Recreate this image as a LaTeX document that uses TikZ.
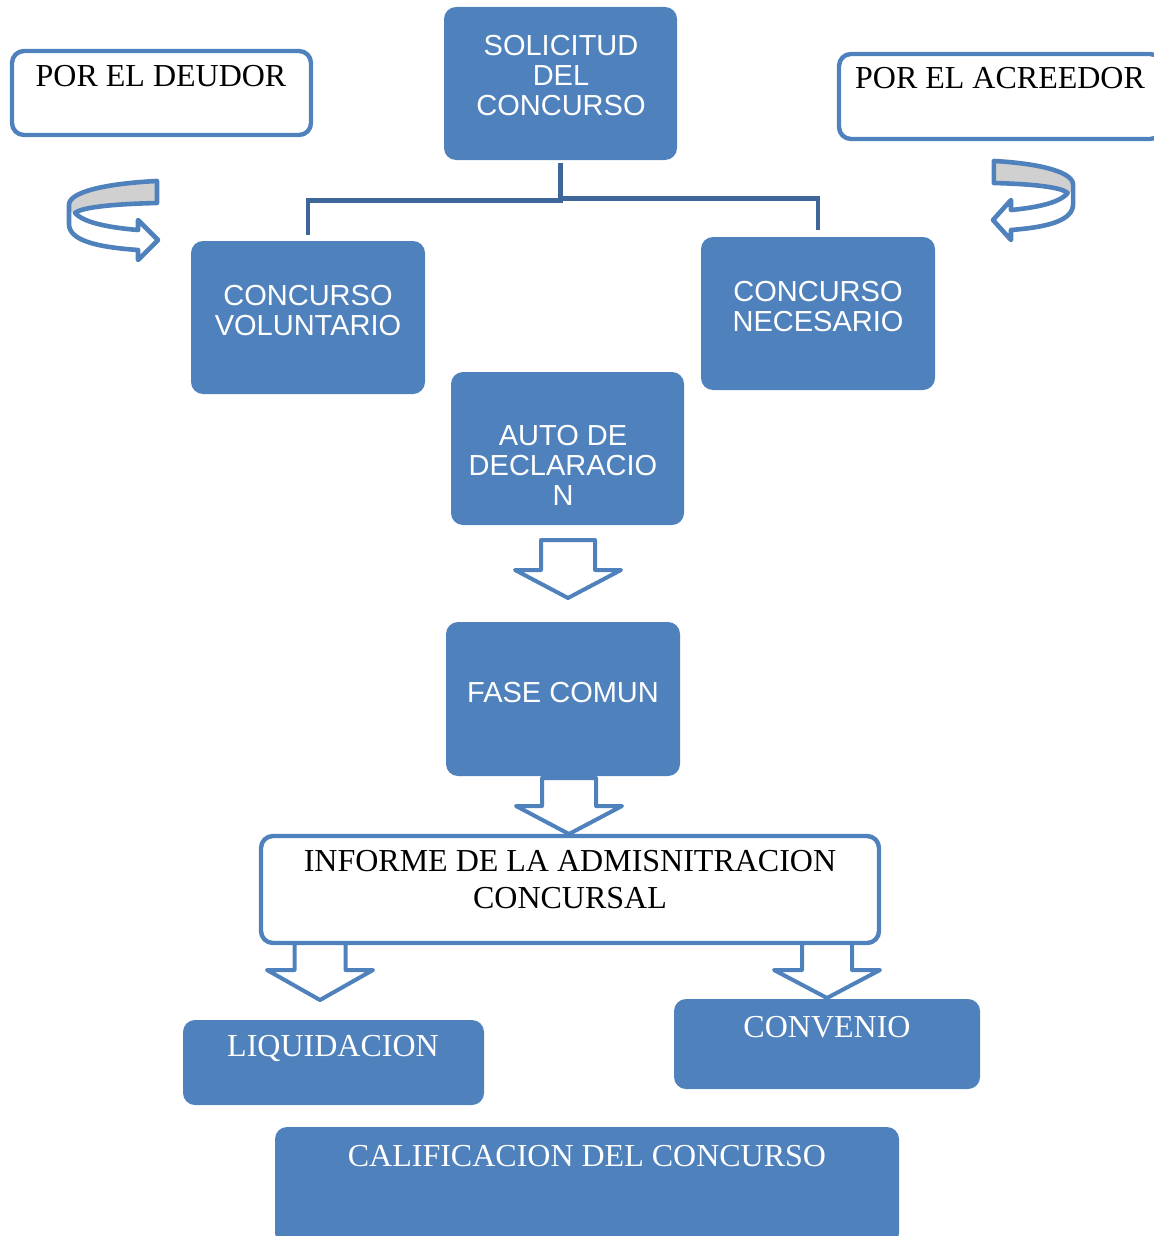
\documentclass[tikz,border=0pt]{standalone}
\usepackage{fontspec}
\setmainfont{Liberation Serif}
\newfontfamily\arialf{Liberation Sans}
\definecolor{accent}{HTML}{4F81BD}
\definecolor{connblue}{HTML}{3F6698}
\definecolor{ribbon}{HTML}{D0D0D0}
\tikzset{
  fbox/.style={fill=accent, draw=none, rounded corners=6pt, inner sep=0pt},
  wbox/.style={fill=white, draw=accent, line width=2.2pt, rounded corners=6pt, inner sep=0pt},
  sanstxt/.style={font=\arialf\fontsize{14.5}{15}\selectfont, text=white, align=center, inner sep=0pt},
  seriftxt/.style={font=\fontsize{16}{18.5}\selectfont, align=center, inner sep=0pt},
  conn/.style={draw=connblue, line width=2.3pt},
  barrow/.style={draw=accent, fill=white, line width=2pt, line join=round},
  turnline/.style={draw=accent, line width=2.3pt, line join=round},
}
% block arrow: x, ytop, shaft half width, head y offset, head half width, tip offset
\newcommand\myblockarrow[6]{%
  \draw[barrow] ({#1-#3},#2) -- ({#1+#3},#2) -- ({#1+#3},{#2+#4}) -- ({#1+#5},{#2+#4})
    -- (#1,{#2+#6}) -- ({#1-#5},{#2+#4}) -- ({#1-#3},{#2+#4}) -- cycle;}
\newcommand\myturnpath{(89,1) -- (89,23) .. controls (47,24) and (14,27) .. (7,33)
  .. controls (17,44) and (47,48) .. (70,50) -- (70,40) -- (90,60) -- (70,80) -- (70,70)
  .. controls (27,67) and (1,60) .. (1,44) -- (1,24) .. controls (3,10) and (47,3) .. (89,1) -- cycle}
\newcommand\myturnarrow[1]{%
  \begin{scope}[#1]
    \fill[white] \myturnpath;
    \fill[ribbon] (89,1) -- (89,23) .. controls (47,24) and (14,27) .. (7,33) -- (1,31) -- (1,24)
      .. controls (3,10) and (47,3) .. (89,1) -- cycle;
    \draw[turnline] \myturnpath;
  \end{scope}}
\begin{document}
\begin{tikzpicture}[x=0.5pt,y=-0.5pt]
\useasboundingbox (0,0) rectangle (1154,1236);
\clip (0,0) rectangle (1154,1236);

% boxes
\node[wbox, minimum width=149.5pt, minimum height=42pt] (deudor) at (161.5,93) {};
\node[fbox, minimum width=116.5pt, minimum height=76.5pt] (sol) at (560.5,83.5) {};
\node[wbox, minimum width=161.5pt, minimum height=42.5pt] (acre) at (1000.5,96.5) {};
\node[fbox, minimum width=117pt, minimum height=76.5pt] (vol) at (308,317.5) {};
\node[fbox, minimum width=117pt, minimum height=76.5pt] (nec) at (818,313.5) {};
\node[fbox, minimum width=116.5pt, minimum height=76.5pt] (auto) at (567.5,448.5) {};
\node[fbox, minimum width=117pt, minimum height=77pt] (fase) at (563,699) {};
\node[wbox, minimum width=309pt, minimum height=53.5pt] (inf) at (570,889.5) {};
\node[fbox, minimum width=150.5pt, minimum height=42.5pt] (liq) at (333.5,1062.5) {};
\node[fbox, minimum width=153pt, minimum height=45pt] (conv) at (827,1044) {};
\node[fbox, minimum width=312pt, minimum height=59pt] (calif) at (587,1186) {};

% texts
\node[seriftxt, anchor=base] (tdeudor) at (161,87) {POR EL DEUDOR};
\node[sanstxt] (tsol) at (561,76) {SOLICITUD\\DEL\\CONCURSO};
\node[seriftxt, anchor=base] (tacre) at (1000,89) {POR EL ACREEDOR};
\node[sanstxt] (tvol) at (308,311) {CONCURSO\\VOLUNTARIO};
\node[sanstxt] (tnec) at (818,307) {CONCURSO\\NECESARIO};
\node[sanstxt] (tauto) at (563,465) {AUTO DE\\DECLARACIO\\N};
\node[sanstxt] (tfase) at (563,693) {FASE COMUN};
\node[seriftxt] (tinf) at (570,879.5) {INFORME DE LA ADMISNITRACION\\CONCURSAL};
\node[seriftxt, anchor=base, text=white] (tliq) at (333,1056) {LIQUIDACION};
\node[seriftxt, anchor=base, text=white] (tconv) at (827,1037) {CONVENIO};
\node[seriftxt, anchor=base, text=white] (tcalif) at (587,1166) {CALIFICACION DEL CONCURSO};

% connectors
\draw[conn] ([yshift=-1.5pt]sol.south) -- ++(0,37) -| ([yshift=3pt]vol.north);
\draw[conn] ([yshift=-1.5pt]sol.south) ++(0,35) -| ([yshift=3.5pt]nec.north);

% block arrows
\myblockarrow{568}{540}{27}{30}{53}{58}
\myblockarrow{569}{778}{27}{28}{53}{56}
\myblockarrow{320}{943}{25.5}{27}{53}{57}
\myblockarrow{827}{943}{25}{27}{53}{55}

% turning arrows
\myturnarrow{shift={(68,180)}}
\myturnarrow{shift={(1074,160)}, xscale=-0.9}
\end{tikzpicture}
\end{document}
